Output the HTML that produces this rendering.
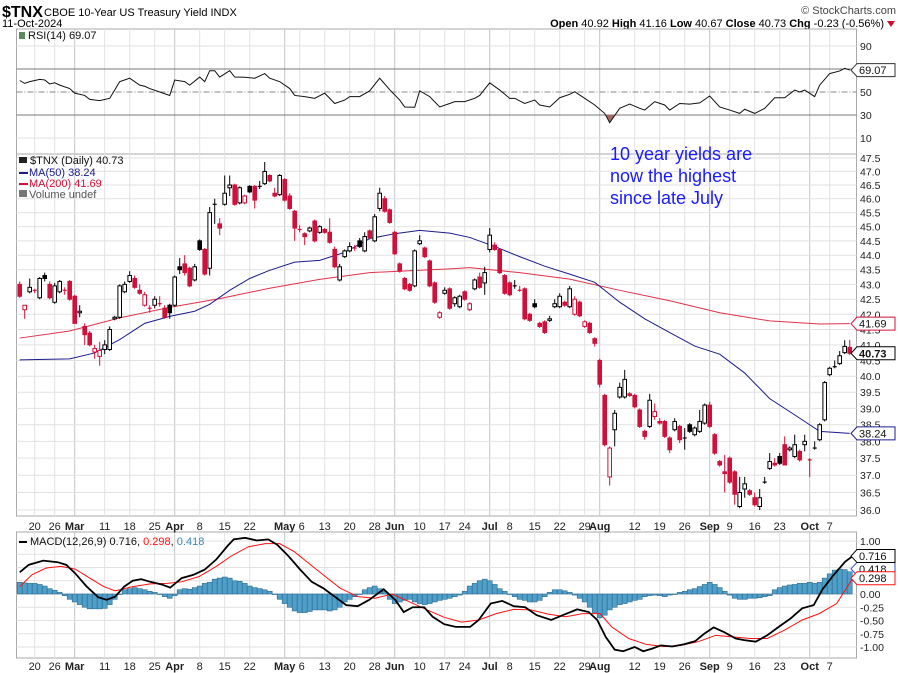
<!DOCTYPE html>
<html><head><meta charset="utf-8"><style>
html,body{margin:0;padding:0;background:#fff;}
svg{display:block;font-family:"Liberation Sans",sans-serif;}
</style></head><body>
<svg id="chart" width="900" height="673" viewBox="0 0 900 673" xmlns="http://www.w3.org/2000/svg">
<g>
<text x="2" y="17" font-size="16" font-weight="bold">$TNX</text>
<text x="44" y="16" font-size="11">CBOE 10-Year US Treasury Yield INDX</text>
<text x="896" y="14" font-size="11" fill="#444" text-anchor="end">© StockCharts.com</text>
<text x="2" y="27" font-size="11">11-Oct-2024</text>
<text x="884" y="27" font-size="11" text-anchor="end"><tspan font-weight="bold">Open</tspan> 40.92 <tspan font-weight="bold">High</tspan> 41.16 <tspan font-weight="bold">Low</tspan> 40.67 <tspan font-weight="bold">Close</tspan> 40.73 <tspan font-weight="bold">Chg</tspan> -0.23 (-0.56%)</text>
<polygon points="887,21 895,21 891,27" fill="#c8102e"/>
</g>
<g id="grid"></g>
<g id="marks"></g>
<g id="overlay"></g>
<text x="610" y="160" font-size="18" fill="#1a1aff">10 year yields are</text>
<text x="610" y="182" font-size="18" fill="#1a1aff">now the highest</text>
<text x="610" y="204" font-size="18" fill="#1a1aff">since late July</text>
</svg>
<script>
// ---- data ----
const openP=[43.0,42.15,42.75,42.8,42.55,43.3,43.0,42.4,42.75,42.8,43.1,42.6,42.05,41.6,41.38,40.77,40.63,40.85,40.85,41.85,41.9,42.75,43.1,43.2,42.8,42.3,42.2,42.3,42.35,42.2,42.3,42.3,43.6,43.7,43.55,43.15,44.5,44.2,43.55,45.8,45.1,45.8,46.4,46.5,45.85,45.85,46.45,46.45,46.4,46.55,46.85,46.2,46.15,46.7,46.1,45.55,44.9,44.75,44.85,45.2,44.8,44.9,44.8,44.2,43.15,43.95,44.15,44.25,44.5,44.15,44.85,44.5,45.65,46.0,45.6,44.8,43.7,43.2,43.0,42.95,44.4,44.25,43.8,43.05,41.9,42.7,42.85,42.35,42.25,42.75,42.15,42.85,43.25,43.05,44.2,44.35,44.2,43.3,43.05,42.95,42.8,42.85,42.0,42.35,41.7,41.75,41.8,42.25,42.25,42.4,42.25,42.0,42.4,41.6,41.7,41.2,40.5,39.4,36.95,38.35,39.35,39.35,39.45,39.4,38.95,38.3,38.45,38.75,38.6,38.6,38.1,38.35,38.45,38.1,38.5,38.2,38.3,38.55,39.1,38.2,37.4,37.1,37.5,37.1,36.1,36.6,36.55,36.35,36.1,36.8,37.2,37.35,37.55,37.9,37.75,37.55,37.7,37.9,37.45,37.8,38.05,38.65,40.05,40.3,40.4,40.75,40.92];
const closeP=[42.6,42.3,42.9,42.75,43.2,43.2,42.55,42.95,43.1,42.75,42.5,41.7,42.1,41.33,41.0,40.88,40.82,41.0,41.5,41.9,42.95,43.0,43.3,42.9,42.7,42.65,42.2,42.5,42.35,41.9,42.05,43.25,43.5,43.4,42.95,43.6,44.2,43.35,45.5,45.8,44.95,46.2,46.5,45.8,46.4,46.1,46.25,45.95,46.45,47.0,46.65,46.1,46.85,45.95,45.65,44.95,44.9,44.65,44.95,44.5,45.0,44.8,44.45,43.6,43.6,44.15,44.3,44.2,44.3,44.65,44.6,45.35,46.2,45.55,45.15,44.05,43.45,42.85,42.8,44.15,44.5,43.95,42.95,42.4,42.05,42.8,42.2,42.55,42.6,42.5,42.35,43.15,42.9,43.4,44.7,44.2,43.4,42.7,42.65,42.95,42.8,41.85,41.8,42.25,41.6,41.4,41.85,42.35,42.6,42.3,42.85,42.5,41.95,41.75,41.4,41.05,39.75,37.9,37.8,38.85,39.65,39.9,39.4,39.05,38.45,38.15,39.25,38.9,38.55,38.15,37.75,38.6,38.05,38.1,38.3,38.4,38.6,39.1,38.45,37.65,37.3,37.05,36.8,36.45,36.5,36.75,36.45,36.15,36.35,36.8,37.4,37.3,37.35,37.3,37.8,37.9,37.45,38.0,37.45,37.8,38.5,39.8,40.25,40.3,40.65,40.95,40.73];
const highP=[43.1,42.3,43.2,42.85,43.25,43.4,43.1,43.05,43.15,42.9,43.15,42.65,42.3,41.7,41.45,41.0,41.1,41.15,41.6,41.95,43.0,43.1,43.45,43.3,43.0,42.75,42.3,42.6,42.6,42.3,42.35,43.3,43.9,44.0,43.6,43.7,44.55,44.25,45.7,46.0,45.3,46.85,46.85,46.55,46.45,46.15,46.5,46.5,46.65,47.35,46.9,46.4,46.9,46.75,46.2,45.6,45.05,44.8,45.0,45.25,45.05,44.95,45.3,44.3,43.7,44.2,44.45,44.35,44.6,44.8,44.9,45.45,46.4,46.1,45.65,44.85,43.75,43.25,43.05,44.2,44.7,44.3,43.85,43.1,42.1,42.9,42.9,42.6,42.65,42.8,42.4,43.2,43.4,43.6,44.95,44.45,44.25,43.35,43.1,43.15,42.95,42.9,42.05,42.5,41.75,41.8,41.95,42.5,42.7,42.45,42.95,42.6,42.45,41.8,41.75,41.25,40.55,39.45,37.85,38.95,39.8,40.2,39.5,39.45,39.0,38.35,39.45,39.15,38.7,38.65,38.15,38.7,38.5,38.4,38.55,38.45,38.95,39.15,39.2,38.25,37.45,37.6,37.55,37.15,36.95,36.95,36.6,36.5,36.6,36.95,37.65,37.5,37.65,38.15,37.85,38.2,37.75,38.2,37.5,38.0,38.55,39.85,40.3,40.5,40.8,41.15,41.16];
const lowP=[42.55,41.85,42.7,42.7,42.5,43.1,42.5,42.35,42.7,42.65,42.45,41.7,41.9,41.0,40.95,40.55,40.33,40.7,40.8,41.8,41.85,42.7,43.05,42.85,42.65,42.25,42.05,42.2,42.25,41.85,41.85,42.25,43.35,43.3,42.9,43.1,44.15,43.3,43.3,45.1,44.7,45.75,46.1,45.75,45.8,45.8,46.2,45.65,46.35,46.5,46.6,46.05,46.1,45.9,45.6,44.5,44.8,44.35,44.8,44.45,44.75,44.75,44.4,43.55,43.1,43.9,44.1,44.15,44.25,44.1,44.55,44.45,45.55,45.5,45.1,44.0,43.4,42.8,42.75,42.9,44.35,43.9,42.9,42.35,41.85,42.65,42.15,42.25,42.2,42.45,42.1,42.8,42.85,42.65,44.1,44.15,43.35,42.65,42.6,42.85,42.75,41.8,41.75,42.2,41.55,41.35,41.75,42.2,42.2,42.25,42.2,41.95,41.9,41.55,41.35,40.95,39.65,37.85,36.7,37.85,39.3,39.3,39.35,39.0,38.4,38.05,38.4,38.65,38.5,38.1,37.65,38.3,37.95,37.75,38.25,38.15,38.25,38.5,38.4,37.6,37.25,36.5,36.75,36.15,36.05,36.35,36.4,36.1,36.0,36.75,37.15,37.25,37.3,37.3,37.7,37.5,37.4,37.7,36.95,37.75,38.0,38.6,40.0,40.25,40.35,40.7,40.67];
const ma50Day=[0,10,15,20,25,30,35,38,42,46,50,55,60,65,70,75,80,86,90,95,100,105,110,115,120,125,130,135,140,145,150,155,160,166];
const ma50Val=[40.52,40.55,40.74,41.17,41.7,41.93,42.1,42.33,42.8,43.2,43.48,43.76,43.82,44.1,44.58,44.75,44.87,44.77,44.62,44.3,43.95,43.62,43.35,43.07,42.4,41.85,41.4,40.96,40.7,40.1,39.3,38.8,38.3,38.24];
const ma200Day=[0,10,20,30,40,50,60,70,80,86,90,100,110,120,130,140,150,160,166];
const ma200Val=[41.22,41.45,41.88,42.23,42.52,42.87,43.17,43.4,43.48,43.53,43.57,43.4,43.18,42.8,42.45,42.05,41.78,41.68,41.69];
const rsiDay=[0,1,2,4,5,6,7,8,10,11,13,14,16,18,19,20,22,24,25,26,28,30,31,33,34,36,37,38,39,40,42,43,45,47,49,50,52,54,55,57,59,61,63,65,66,68,70,72,74,76,77,79,80,82,84,86,87,89,91,92,94,96,98,99,101,103,104,106,108,110,111,113,115,117,118,120,122,124,125,127,129,130,132,134,136,138,140,142,144,145,147,149,151,153,155,156,157,159,160,162,164,165,166];
const rsiVal=[60,57.5,59,61,60.5,57,58,56,53,49,47,43.6,42.5,44.5,51.7,59,62,56,55,53,50,47,60.4,59,56,63,59,68.5,68.5,63,68.5,63,62.8,62,66,62,59,53,47,46,44.5,49,40,43,46,46,51,62,52,43,37,36.7,51,46,37,40,41.6,41.6,44.5,47,58,51.7,44.5,44.5,40,43,38.7,37,45,48,50.3,44.5,38.7,31.4,23.3,35.8,39.5,35.8,34.3,41.6,38.7,34.3,40,39.5,40.5,46.5,37,34.3,31.4,35,31.4,35.8,45,45,51.7,50,51.7,46,56,66,68.3,70.6,69.07];
const macdDay=[0,1.8,4.7,7.6,9.3,11.1,13.4,15.7,17.4,19.1,20.9,22.6,24.3,26.1,28.4,30.1,32.4,34.7,37,39.3,41.6,42.8,45.1,47.4,49.7,51.5,53.8,56.1,58.4,60.7,63,65.3,67.6,69.9,72.8,75.1,76.8,78.6,80.9,82.6,84.9,87.2,90.1,91.8,94.2,96.5,98.8,101.1,103.4,106.3,108.6,111.5,113.8,115.5,117.2,119,120.7,123,124.7,126.5,128.2,130.5,132.8,135.1,136.9,138.8,140.9,143.2,144.9,147.2,149.5,151.8,154.2,156.5,158.8,160.5,162.8,165.1,166.6];
const macdVal=[0.41,0.55,0.63,0.6,0.55,0.39,0.14,-0.06,-0.11,-0.05,0.14,0.25,0.28,0.23,0.18,0.12,0.3,0.36,0.46,0.65,0.91,1.03,1.06,1.01,1.03,0.93,0.71,0.46,0.23,0.11,-0.05,-0.21,-0.23,-0.11,0.09,-0.11,-0.34,-0.25,-0.25,-0.43,-0.57,-0.62,-0.62,-0.49,-0.18,-0.13,-0.23,-0.25,-0.4,-0.49,-0.4,-0.29,-0.34,-0.49,-0.81,-1.05,-1.08,-1.0,-1.08,-1.03,-0.97,-0.99,-0.95,-0.89,-0.75,-0.63,-0.72,-0.84,-0.87,-0.9,-0.78,-0.62,-0.46,-0.27,-0.21,0.08,0.36,0.61,0.716];
const sigDay=[0,2.4,5.3,8.2,11.1,14,16.8,19.1,22.6,26.1,29.5,32.4,35.9,39.3,42.2,45.7,49.1,52,54.9,57.8,60.7,64.1,67.6,71.1,74.5,78,81.5,84.9,88.4,91.8,95.3,98.8,102.2,105.7,109.2,112.6,116.1,118.4,121.8,125.3,128.8,132.2,135.7,139.2,142.6,146.1,149.5,153,156.5,159.9,163.4,166.6];
const sigVal=[0.14,0.36,0.49,0.52,0.47,0.3,0.14,0.06,0.14,0.19,0.2,0.23,0.33,0.52,0.71,0.89,0.95,0.95,0.8,0.58,0.36,0.11,-0.05,-0.08,0,-0.15,-0.3,-0.44,-0.53,-0.49,-0.37,-0.29,-0.3,-0.38,-0.43,-0.37,-0.37,-0.62,-0.84,-0.95,-0.99,-0.97,-0.9,-0.78,-0.81,-0.84,-0.84,-0.68,-0.49,-0.37,-0.18,0.298];
const histVal=[0.22,0.21,0.2,0.2,0.18,0.15,0.1,0.07,0.03,-0.03,-0.1,-0.15,-0.2,-0.25,-0.28,-0.28,-0.28,-0.27,-0.2,-0.1,0,0.08,0.1,0.12,0.1,0.08,0.05,0.03,0,-0.05,-0.08,-0.03,0.08,0.1,0.09,0.12,0.15,0.2,0.22,0.28,0.3,0.32,0.3,0.25,0.24,0.2,0.15,0.12,0.1,0.08,0.05,0,-0.1,-0.18,-0.25,-0.32,-0.35,-0.35,-0.33,-0.3,-0.3,-0.3,-0.32,-0.3,-0.25,-0.15,-0.1,-0.05,0,0.08,0.12,0.15,0.1,0.05,-0.1,-0.18,-0.15,-0.12,-0.1,-0.15,-0.18,-0.2,-0.18,-0.15,-0.12,-0.1,-0.08,-0.05,-0.02,0.05,0.15,0.2,0.25,0.28,0.25,0.18,0.1,0.05,0,-0.05,-0.1,-0.12,-0.15,-0.15,-0.12,-0.05,0.03,0.08,0.08,0.06,0.03,-0.02,-0.08,-0.15,-0.25,-0.35,-0.45,-0.4,-0.3,-0.25,-0.2,-0.18,-0.15,-0.12,-0.1,-0.05,-0.03,-0.02,-0.03,-0.05,-0.02,0,0.03,0.05,0.08,0.1,0.14,0.18,0.22,0.18,0.12,0.05,-0.02,-0.08,-0.1,-0.1,-0.08,-0.08,-0.07,-0.05,-0.03,0.08,0.12,0.15,0.17,0.18,0.2,0.2,0.22,0.2,0.22,0.3,0.38,0.45,0.47,0.46,0.42];
const dateLabels=["20","26","Mar","11","18","25","Apr","8","15","22","May","6","13","20","28","Jun","10","17","24","Jul","8","15","22","29","Aug","12","19","26","Sep","9","16","23","Oct","7"];
const dateDay=[3,7,11,17,22,27,31,36,41,46,53,56,61,66,71,75,80,85,89,94,98,103,108,113,116,123,128,133,138,142,147,152,158,162];
const priceTicks=[47.5,47,46.5,46,45.5,45,44.5,44,43.5,43,42.5,42,41.5,41,40.5,40,39.5,39,38.5,38,37.5,37,36.5,36];
const rsiTicks=[90,70,50,30,10];
const macdTicks=[1,0.75,0.5,0.25,0,-0.25,-0.5,-0.75,-1];

// ---- geometry ----
const L=16.5,R=856.5;
const RSI_T=29,RSI_B=154,P_T=154,P_B=516,M_T=532,M_B=658;
const xD=i=>19.7+5*i;
const yP=p=>158+(Math.log(47.5)-Math.log(p))*1269.8;
const yR=r=>115-(r-30)*1.15;
const yM=v=>594-v*53;
const NS="http://www.w3.org/2000/svg";
function mk(tag,attrs,parent){const e=document.createElementNS(NS,tag);for(const k in attrs)e.setAttribute(k,attrs[k]);parent.appendChild(e);return e;}
const grid=document.getElementById('grid'),marks=document.getElementById('marks'),ov=document.getElementById('overlay');
const fmt=v=>v.toFixed(2);

// panels
[[RSI_T,RSI_B,'rsi-panel'],[P_T,P_B,'price-panel'],[M_T,M_B,'macd-panel']].forEach(([t,b,n])=>{
 const r=mk('rect',{x:L,y:t,width:R-L,height:b-t,fill:'#fff',stroke:'#aaa'},grid);
 
 
});
// vertical grid
dateDay.forEach((d,k)=>{
 const month=/[A-Za-z]/.test(dateLabels[k]);
 [[RSI_T,RSI_B],[P_T,P_B],[M_T,M_B]].forEach(([t,b])=>{
  const ln=mk('line',{x1:xD(d),x2:xD(d),y1:t,y2:b,stroke:month?'#c4c4c4':'#e2e2e2','stroke-width':1},grid);
  
  
 });
 [521+9,663+7].forEach(yy=>{
  const tx=mk('text',{x:xD(d)+(dateLabels[k]==='6'?2:0),y:yy,'font-size':11,'text-anchor':'middle','font-weight':month?'bold':'normal',fill:'#222'},grid);
  tx.textContent=dateLabels[k];
  
  
 });
});
// price grid + labels
priceTicks.forEach(p=>{
 const ln=mk('line',{x1:L,x2:R,y1:yP(p),y2:yP(p),stroke:'#e2e2e2'},grid);
 
 
 const tx=mk('text',{x:860,y:yP(p)+4,'font-size':10.5,fill:'#222'},grid);
 tx.textContent=p.toFixed(1);
 
 
});
// rsi grid
rsiTicks.forEach(r=>{
 const sty=(r===70||r===30)?{stroke:'#777'}:(r===50?{stroke:'#888','stroke-dasharray':'6,2,1,2'}:{stroke:'#e2e2e2'});
 const ln=mk('line',Object.assign({x1:L,x2:R,y1:yR(r),y2:yR(r)},sty),grid);
 
 
 const tx=mk('text',{x:860,y:yR(r)+4,'font-size':10.5,fill:'#222'},grid);
 tx.textContent=String(r);
 
 
});
// macd grid
macdTicks.forEach(v=>{
 const ln=mk('line',{x1:L,x2:R,y1:yM(v),y2:yM(v),stroke:'#e2e2e2'},grid);
 
 
 const tx=mk('text',{x:860,y:yM(v)+4,'font-size':10.5,fill:'#222'},grid);
 tx.textContent=fmt(v);
 
 
});

// RSI line with oversold fill
const rsiPts=rsiDay.map((d,k)=>xD(d)+','+yR(rsiVal[k])).join(' ');
mk('clipPath',{id:'below30'},marks).appendChild(document.createElementNS(NS,'rect'));
const cr=document.querySelector('#below30 rect');cr.setAttribute('x',L);cr.setAttribute('y',yR(30));cr.setAttribute('width',R-L);cr.setAttribute('height',RSI_B-yR(30));
const fillPts=xD(rsiDay[0])+','+yR(30)+' '+rsiPts+' '+xD(rsiDay[rsiDay.length-1])+','+yR(30);
const rf=mk('polygon',{points:fillPts,fill:'#a86a62','clip-path':'url(#below30)'},marks);


const rl=mk('polyline',{points:rsiPts,fill:'none',stroke:'#111','stroke-width':1},marks);



// moving averages
const m200=mk('polyline',{points:ma200Day.map((d,k)=>xD(d)+','+yP(ma200Val[k])).join(' '),fill:'none',stroke:'#e0324a','stroke-width':1},marks);


const m50=mk('polyline',{points:ma50Day.map((d,k)=>xD(d)+','+yP(ma50Val[k])).join(' '),fill:'none',stroke:'#1c1c8c','stroke-width':1},marks);



// candles
closeP.forEach((c,i)=>{
 const o=openP[i],prev=i>0?closeP[i-1]:99;
 const col=c<prev?'#d0103a':'#000';
 const filled=c<o;
 const g=mk('g',{},marks);
 
 
 const x=xD(i);
 mk('line',{x1:x,x2:x,y1:yP(highP[i]),y2:yP(lowP[i]),stroke:col,'stroke-width':1},g);
 const top=yP(Math.max(o,c)),bot=yP(Math.min(o,c));
 const h=Math.max(bot-top,1);
 if(h<=1.5){mk('line',{x1:x-2,x2:x+2,y1:top,y2:top,stroke:col,'stroke-width':1.2},g);}
 else mk('rect',{x:x-1.8,y:top,width:3.6,height:h,fill:filled?col:'#fff',stroke:col,'stroke-width':1},g);
});

// MACD histogram
histVal.forEach((v,i)=>{
 const y0=yM(0),y1=yM(v);
 const b=mk('rect',{x:xD(i)-2.5,y:Math.min(y0,y1),width:5,height:Math.max(Math.abs(y1-y0),0.5),fill:'#4f9fc8',stroke:'#2b6a90','stroke-width':0.6},marks);
 
 
});
const sl=mk('polyline',{points:sigDay.map((d,k)=>xD(d)+','+yM(sigVal[k])).join(' '),fill:'none',stroke:'#ff1010','stroke-width':1},marks);


const ml=mk('polyline',{points:macdDay.map((d,k)=>xD(d)+','+yM(macdVal[k])).join(' '),fill:'none',stroke:'#000','stroke-width':1.8},marks);



// value tags
function tag(y,label,col,bold,name){
 const g=mk('g',{},ov);
 
 
 mk('polygon',{points:`851,${y} 857,${y-6.5} 895,${y-6.5} 895,${y+6.5} 857,${y+6.5}`,fill:'#fff',stroke:col,'stroke-width':1},g);
 const t=mk('text',{x:859,y:y+4,'font-size':11,'font-weight':bold?'bold':'normal',fill:'#111'},g);
 t.textContent=label;
}
tag(yR(69.07),'69.07','#333',false,'rsi-value-tag');
tag(yP(41.69),'41.69','#d0103a',false,'ma200-value-tag');
tag(yP(40.73),'40.73','#000',true,'price-value-tag');
tag(yP(38.24),'38.24','#1c1c8c',false,'ma50-value-tag');
tag(yM(0.418)-3,'0.418','#3050c0',false,'macd-hist-value-tag');
tag(yM(0.716),'0.716','#000',false,'macd-value-tag');
tag(yM(0.298),'0.298','#ff1010',false,'macd-signal-value-tag');

// legends
function txt(x,y,s,col,name,size){const t=mk('text',{x:x,y:y,'font-size':size||11,fill:col},ov);t.textContent=s;return t;}
mk('rect',{x:19,y:32,width:6,height:7,fill:'#5a8a5a'},ov);
txt(28,39,'RSI(14) 69.07','#111','rsi-legend');
mk('rect',{x:19,y:157,width:8,height:6,fill:'#222'},ov);
txt(30,164,'$TNX (Daily) 40.73','#111','price-legend');
mk('rect',{x:19,y:172,width:9,height:2,fill:'#1c1c8c'},ov);
txt(29,176,'MA(50) 38.24','#1c1c8c','ma50-legend');
mk('rect',{x:19,y:183,width:9,height:2,fill:'#d0103a'},ov);
txt(29,187,'MA(200) 41.69','#d0103a','ma200-legend');
mk('rect',{x:19,y:190,width:8,height:7,fill:'#777'},ov);
txt(29,198,'Volume undef','#555','volume-legend');
mk('rect',{x:19,y:541,width:8,height:2,fill:'#000'},ov);
const mt=txt(30,545,'MACD(12,26,9) 0.716, ','#111','macd-legend');
const s1=document.createElementNS(NS,'tspan');s1.setAttribute('fill','#ff1010');s1.textContent='0.298';mt.appendChild(s1);
const s2=document.createElementNS(NS,'tspan');s2.setAttribute('fill','#111');s2.textContent=', ';mt.appendChild(s2);
const s3=document.createElementNS(NS,'tspan');s3.setAttribute('fill','#3a8ab8');s3.textContent='0.418';mt.appendChild(s3);
</script>
</body></html>
